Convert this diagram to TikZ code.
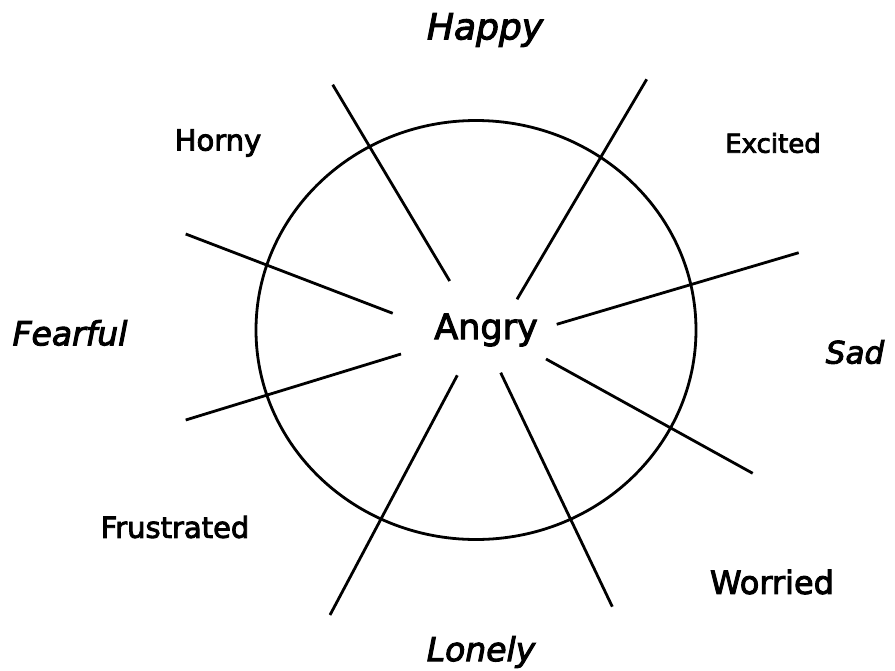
\documentclass[tikz,border=0pt]{standalone}
\usepackage{fontspec}
\setmainfont{DejaVu Sans}[FakeBold=3]
\begin{document}
\begin{tikzpicture}[x=1pt,y=-1pt,
  spoke/.style={line width=2.8pt,line cap=butt},
  lab/.style={inner sep=0pt,anchor=center,font=\fontsize{29}{34}\selectfont},
  ilab/.style={inner sep=0pt,anchor=center,font=\fontsize{34}{40}\selectfont\itshape}]
\useasboundingbox (0,0) rectangle (895,670);
\draw[line width=2.8pt] (476,330) ellipse [x radius=220, y radius=209.5];
% spokes
\coordinate (a1) at (332.7,84.7); \coordinate (b1) at (449.7,281);
\coordinate (a2) at (646.7,79.3); \coordinate (b2) at (517,299.3);
\coordinate (a3) at (185.7,234); \coordinate (b3) at (392.7,313.3);
\coordinate (a4) at (798.7,252.7); \coordinate (b4) at (556.7,324.3);
\coordinate (a5) at (185.7,420); \coordinate (b5) at (401,354);
\coordinate (a6) at (752.7,473.3); \coordinate (b6) at (546,359);
\coordinate (a7) at (330,615); \coordinate (b7) at (457.3,375.3);
\coordinate (a8) at (612.3,606.7); \coordinate (b8) at (500.7,372.7);
\foreach \i in {1,...,8} \draw[spoke] (a\i) -- (b\i);
% labels
\node[lab,font=\fontsize{35}{40}\selectfont] (angry) at (486,330) {Angry};
\node[ilab,font=\fontsize{36}{42}\selectfont\itshape] (happy) at (485,30) {Happy};
\node[lab] (horny) at (218,143) {Horny};
\node[lab,font=\fontsize{26}{31}\selectfont] (excited) at (773,143) {Excited};
\node[ilab,font=\fontsize{33}{40}\selectfont\itshape] (fearful) at (70,333) {Fearful};
\node[ilab,font=\fontsize{31}{38}\selectfont\itshape] (sad) at (855,352) {Sad};
\node[lab] (frustrated) at (175,527) {Frustrated};
\node[lab,font=\fontsize{32}{38}\selectfont] (worried) at (772,582) {Worried};
\node[ilab,font=\fontsize{33}{40}\selectfont\itshape] (lonely) at (481,652) {Lonely};
\end{tikzpicture}
\end{document}
